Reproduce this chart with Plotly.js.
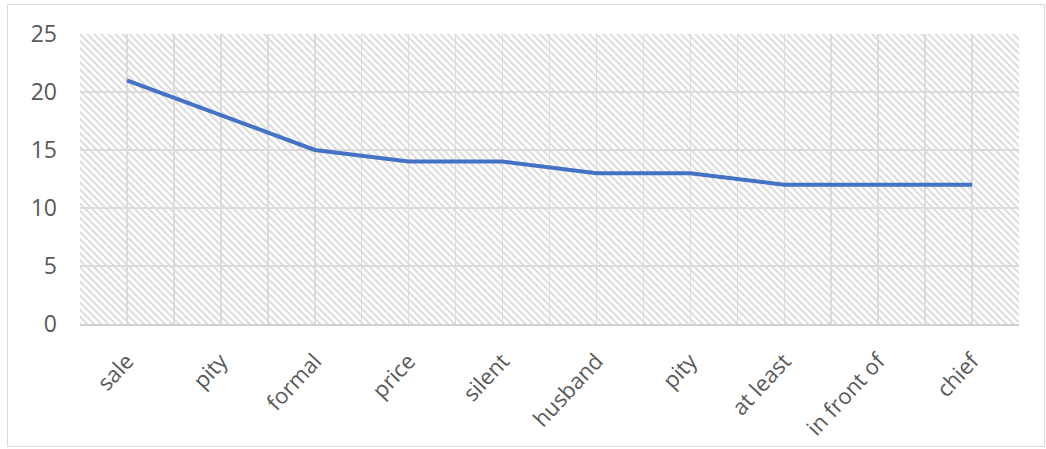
<!DOCTYPE html>
<html>
<head>
<meta charset="utf-8">
<script src="https://cdn.plot.ly/plotly-3.0.1.min.js"></script>
<style>
  html, body { margin: 0; padding: 0; background: #fff; }
  #wrap { position: relative; width: 1046px; height: 449px; }
  #chart { width: 1046px; height: 449px; }
  #frame { position: absolute; left: 7px; top: 4px; width: 1036px; height: 441px;
           border: 1px solid #d9d9d9; pointer-events: none; }
</style>
</head>
<body>
<div id="wrap">
  <div id="chart"></div>
  <div id="frame"></div>
</div>
<script>
const categories = ["sale", "pity", "formal", "price", "silent", "husband", "pity", "at least", "in front of", "chief"];
const values = [21, 18, 15, 14, 14, 13, 13, 12, 12, 12];
const yTicks = [0, 5, 10, 15, 20, 25];

const n = categories.length;
const idx = categories.map((_, i) => i);
const yMax = yTicks[yTicks.length - 1];

// tick positions at every half-step so gridlines fall on both centers and boundaries
const tickvals = [];
const ticktext = [];
for (let k = -1; k <= 2 * n - 1; k++) {
  const v = k / 2;
  tickvals.push(v);
  ticktext.push(Number.isInteger(v) && v >= 0 && v < n ? categories[v] : "");
}

const hatch = {
  x: [-0.5, n - 0.5, n - 0.5, -0.5, -0.5],
  y: [0, 0, yMax, yMax, 0],
  mode: "lines",
  fill: "toself",
  line: { width: 0, color: "rgba(0,0,0,0)" },
  fillcolor: "rgba(0,0,0,0)",
  fillpattern: { shape: "\\", fgcolor: "#dadada", bgcolor: "rgba(255,255,255,0)", size: 5, solidity: 0.4 },
  hoverinfo: "skip",
  showlegend: false
};

const line = {
  x: idx,
  y: values,
  mode: "lines",
  line: { color: "#4472C4", width: 4 },
  showlegend: false
};

const layout = {
  width: 1046,
  height: 449,
  margin: { l: 80, r: 27, t: 34, b: 125 },
  paper_bgcolor: "rgba(0,0,0,0)",
  plot_bgcolor: "#ffffff",
  font: { family: "Open Sans, sans-serif", color: "#595959", size: 22 },
  xaxis: {
    range: [-0.5, n - 0.5],
    tickmode: "array",
    tickvals: tickvals,
    ticktext: ticktext,
    tickangle: -47,
    showgrid: true,
    gridcolor: "#dcdcdc",
    gridwidth: 1.5,
    zeroline: false,
    showline: true,
    linecolor: "#d0d0d0",
    linewidth: 1.5,
    ticks: "",
    ticklabelstandoff: 14,
    tickfont: { size: 22, color: "#595959" },
    fixedrange: true
  },
  yaxis: {
    range: [0, yMax],
    tickmode: "array",
    tickvals: yTicks,
    showgrid: true,
    gridcolor: "#dcdcdc",
    gridwidth: 1.5,
    zeroline: false,
    showline: false,
    ticks: "",
    ticklabelstandoff: 22,
    tickfont: { size: 23, color: "#595959" },
    fixedrange: true
  },
  showlegend: false
};

Plotly.newPlot("chart", [hatch, line], layout, { displayModeBar: false, staticPlot: true });
</script>
</body>
</html>
